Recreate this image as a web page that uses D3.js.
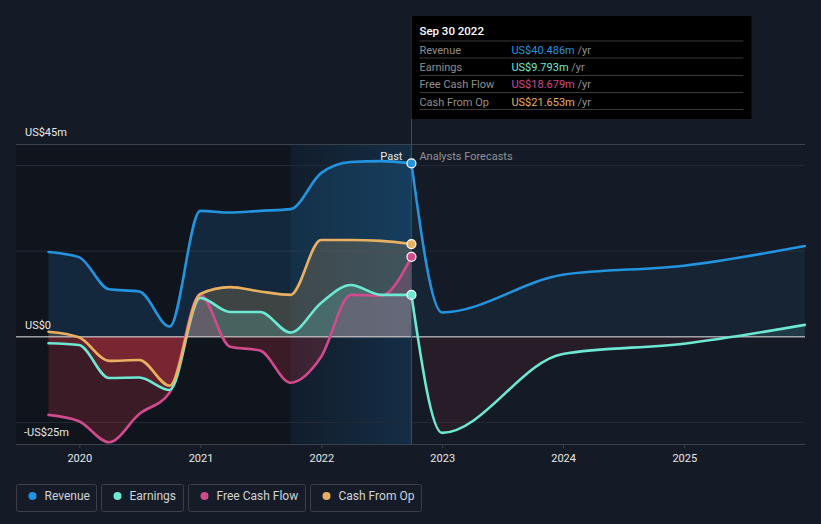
<!DOCTYPE html>
<html>
<head>
<meta charset="utf-8">
<script src="https://cdn.jsdelivr.net/npm/d3@7"></script>
<style>
  html, body { margin: 0; padding: 0; background: #151b26; }
  svg { display: block; font-family: Roboto, "Noto Sans", sans-serif; }
</style>
</head>
<body>
<svg id="chart" width="821" height="524"></svg>
<script>
// ---------------- DATA ----------------
const seriesNames = ["Revenue", "Earnings", "Free Cash Flow", "Cash From Op"];
const seriesColors = ["#2394df", "#6de8d3", "#d04a8c", "#e9b061"];

const pastDates = ["2019-09-30","2019-12-31","2020-03-31","2020-06-30","2020-09-30",
  "2020-12-31","2021-03-31","2021-06-30","2021-09-30","2021-12-31",
  "2022-03-31","2022-06-30","2022-09-30"];
const revenuePast  = [19.8, 18.6, 11.1, 10.6, 2.4, 29.4, 29.0, 29.4, 29.8, 38.2, 40.8, 41.0, 40.486];
const earningsPast = [-1.5, -1.9, -9.6, -9.5, -12.4, 9.1, 5.8, 5.8, 1.0, 7.9, 12.1, 9.8, 9.793];
const fcfPast      = [-18.2, -19.7, -24.6, -18.0, -13.0, 9.8, -2.3, -3.2, -10.7, -4.7, 9.8, 9.6, 18.679];
const cfoPast      = [1.2, -0.1, -5.6, -5.4, -11.4, 10.0, 11.6, 10.6, 9.8, 22.6, 22.6, 22.4, 21.653];

const forecastDates    = ["2022-09-30","2022-12-31","2023-12-31","2024-12-31","2025-12-31"];
const revenueForecast  = [40.486, 5.7, 14.5, 16.6, 21.2];
const earningsForecast = [9.793, -22.4, -4.0, -1.6, 2.8];

const yTickValues = [45, 0, -25];
const yTickLabels = ["US$45m", "US$0", "-US$25m"];
const yGridValues = [40, 20, -20];
const xTickYears = [2020, 2021, 2022, 2023, 2024, 2025];

const tooltipTitle = "Sep 30 2022";
const tooltipValues = ["US$40.486m", "US$9.793m", "US$18.679m", "US$21.653m"];

// ---------------- SETUP ----------------
const svg = d3.select("#chart");
const parse = d3.timeParse("%Y-%m-%d");
const plotLeft = 16, plotRight = 805, plotTop = 144, plotBottom = 444;

const x = d3.scaleTime()
  .domain([new Date(2020, 0, 1), new Date(2025, 0, 1)])
  .range([79.3, 684.3]);
const y = d3.scaleLinear().domain([-25, 45]).range([plotBottom, plotTop]);

const pastX = pastDates.map(parse);
const foreX = forecastDates.map(parse);
const splitX = x(pastX[pastX.length - 1]);
const highlightStart = x(parse("2021-09-30"));

const defs = svg.append("defs");

const hg = defs.append("linearGradient").attr("id", "hl").attr("x1", 0).attr("x2", 1).attr("y1", 0).attr("y2", 0);
hg.append("stop").attr("offset", "0%").attr("stop-color", "#1e6fae").attr("stop-opacity", 0.10);
hg.append("stop").attr("offset", "100%").attr("stop-color", "#1e6fae").attr("stop-opacity", 0.28);

defs.append("clipPath").attr("id", "above").append("rect")
  .attr("x", 0).attr("y", 0).attr("width", 821).attr("height", y(0));
defs.append("clipPath").attr("id", "below").append("rect")
  .attr("x", 0).attr("y", y(0)).attr("width", 821).attr("height", 524 - y(0));

// ---------------- BACKGROUND ----------------
svg.append("rect").attr("x", 0).attr("y", 0).attr("width", 821).attr("height", 524).attr("fill", "#151b26");
svg.append("rect").attr("x", plotLeft).attr("y", plotTop).attr("width", splitX - plotLeft)
  .attr("height", plotBottom - plotTop).attr("fill", "#0c0f15").attr("opacity", 0.55);
svg.append("rect").attr("x", highlightStart).attr("y", plotTop).attr("width", splitX - highlightStart)
  .attr("height", plotBottom - plotTop).attr("fill", "url(#hl)");

svg.append("g").selectAll("line").data(yGridValues).join("line")
  .attr("x1", plotLeft).attr("x2", plotRight)
  .attr("y1", d => y(d)).attr("y2", d => y(d))
  .attr("stroke", "#252b35").attr("stroke-width", 1);
svg.append("line").attr("x1", plotLeft).attr("x2", plotRight).attr("y1", y(45) + 0.5).attr("y2", y(45) + 0.5)
  .attr("stroke", "#3c424c");

// ---------------- AREAS ----------------
const curve = d3.curveMonotoneX;
function areaGen(xs) {
  return d3.area().curve(curve).x((d, i) => x(xs[i])).y0(y(0)).y1(d => y(d));
}
function lineGen(xs) {
  return d3.line().curve(curve).x((d, i) => x(xs[i])).y(d => y(d));
}

const areas = svg.append("g");
const pastSeries = [revenuePast, cfoPast, earningsPast, fcfPast];
const pastColors = [seriesColors[0], seriesColors[3], seriesColors[1], seriesColors[2]];
pastSeries.forEach((vals, k) => {
  areas.append("path").attr("d", areaGen(pastX)(vals)).attr("clip-path", "url(#above)")
    .attr("fill", pastColors[k]).attr("opacity", k === 0 ? 0.16 : 0.2);
  areas.append("path").attr("d", areaGen(pastX)(vals)).attr("clip-path", "url(#below)")
    .attr("fill", "#dc3a48").attr("opacity", 0.21);
});
areas.append("path").attr("d", areaGen(foreX)(revenueForecast)).attr("clip-path", "url(#above)")
  .attr("fill", seriesColors[0]).attr("opacity", 0.08);
areas.append("path").attr("d", areaGen(foreX)(earningsForecast)).attr("clip-path", "url(#above)")
  .attr("fill", seriesColors[1]).attr("opacity", 0.12);
areas.append("path").attr("d", areaGen(foreX)(earningsForecast)).attr("clip-path", "url(#below)")
  .attr("fill", "#dc3a48").attr("opacity", 0.09);

svg.append("line").attr("x1", plotLeft).attr("x2", plotRight).attr("y1", y(0)).attr("y2", y(0))
  .attr("stroke", "#e8e8e8").attr("stroke-width", 1);

svg.append("line").attr("x1", splitX).attr("x2", splitX).attr("y1", 16).attr("y2", plotBottom)
  .attr("stroke", "#2c5478").attr("stroke-width", 1);

// ---------------- LINES ----------------
const lines = svg.append("g").attr("fill", "none").attr("stroke-width", 2.6).attr("stroke-linecap", "round");
[[fcfPast, 2], [earningsPast, 1], [cfoPast, 3], [revenuePast, 0]].forEach(([vals, idx]) => {
  lines.append("path").attr("d", lineGen(pastX)(vals)).attr("stroke", seriesColors[idx]);
});
lines.append("path").attr("d", lineGen(foreX)(earningsForecast)).attr("stroke", seriesColors[1]);
lines.append("path").attr("d", lineGen(foreX)(revenueForecast)).attr("stroke", seriesColors[0]);

const lastVals = [revenuePast, earningsPast, fcfPast, cfoPast].map(a => a[a.length - 1]);
svg.append("g").selectAll("circle").data(lastVals).join("circle")
  .attr("cx", splitX).attr("cy", d => y(d)).attr("r", 4.5)
  .attr("fill", (d, i) => seriesColors[i]).attr("stroke", "#ffffff").attr("stroke-width", 1.2);

// ---------------- AXES ----------------
const xAxis = d3.axisBottom(x)
  .tickValues(xTickYears.map(yr => new Date(yr, 0, 1)))
  .tickFormat(d3.timeFormat("%Y"))
  .tickSize(4).tickPadding(6);
const xg = svg.append("g").attr("transform", `translate(0,${plotBottom})`).call(xAxis);
xg.select(".domain").remove();
xg.selectAll(".tick line").attr("stroke", "#3c424c");
xg.selectAll(".tick text").attr("fill", "#e8e8e8").attr("font-size", 11).attr("font-family", "Roboto, sans-serif");
svg.append("line").attr("x1", plotLeft).attr("x2", plotRight).attr("y1", plotBottom + 0.5).attr("y2", plotBottom + 0.5)
  .attr("stroke", "#3c424c");

svg.append("g").selectAll("text").data(yTickValues).join("text")
  .attr("x", (d, i) => i === 2 ? 24 : 25).attr("y", d => y(d) - 8)
  .attr("fill", "#e8e8e8").attr("font-size", 11)
  .text((d, i) => yTickLabels[i]);

svg.append("text").attr("x", splitX - 9).attr("y", 160).attr("text-anchor", "end")
  .attr("fill", "#e8e8e8").attr("font-size", 11).text("Past");
svg.append("text").attr("x", splitX + 8).attr("y", 160)
  .attr("fill", "#8d9199").attr("font-size", 11).text("Analysts Forecasts");

// ---------------- TOOLTIP ----------------
const tt = svg.append("g");
tt.append("rect").attr("x", splitX).attr("y", 16).attr("width", 340).attr("height", 103).attr("fill", "#000000");
tt.append("text").attr("x", splitX + 8).attr("y", 35).attr("fill", "#ffffff").attr("font-size", 11.5)
  .attr("font-weight", 500).text(tooltipTitle);
const sepYs = [41, 58, 75.5, 92.5, 109.5];
tt.selectAll("line.sep").data(sepYs).join("line").attr("class", "sep")
  .attr("x1", splitX + 8).attr("x2", splitX + 332).attr("y1", d => d).attr("y2", d => d)
  .attr("stroke", "#3a3a3a").attr("stroke-width", 1);
seriesNames.forEach((name, i) => {
  const by = 54 + i * 17.2;
  tt.append("text").attr("x", splitX + 8).attr("y", by).attr("fill", "#8f8f8f").attr("font-size", 11).text(name);
  const t = tt.append("text").attr("x", splitX + 100).attr("y", by).attr("font-size", 11);
  t.append("tspan").attr("fill", seriesColors[i]).text(tooltipValues[i]);
  t.append("tspan").attr("fill", "#8f8f8f").text(" /yr");
});

// ---------------- LEGEND ----------------
const lg = svg.append("g");
let lx = 16.5;
seriesNames.forEach((name, i) => {
  const g = lg.append("g");
  const txt = g.append("text").attr("x", lx + 28).attr("y", 500).attr("fill", "#d0d3d8").attr("font-size", 12).text(name);
  const w = Math.round(txt.node().getComputedTextLength() + 35);
  g.insert("rect", "text").attr("x", lx).attr("y", 484.5).attr("width", w).attr("height", 27).attr("rx", 2)
    .attr("fill", "#161c27").attr("stroke", "#3a3f49").attr("stroke-width", 1);
  g.append("circle").attr("cx", lx + 16).attr("cy", 496).attr("r", 4).attr("fill", seriesColors[i]);
  lx += w + 5;
});
</script>
</body>
</html>
